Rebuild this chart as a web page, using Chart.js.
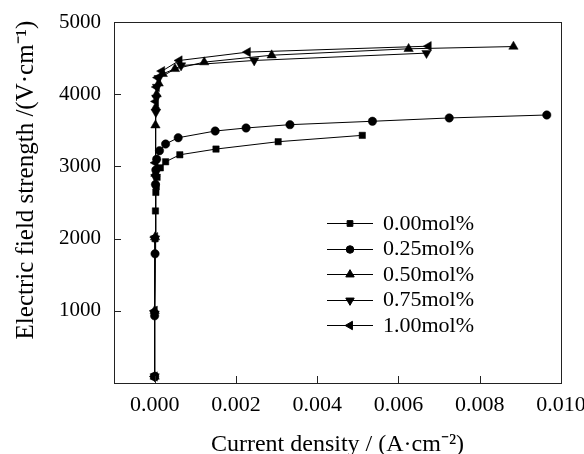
<!DOCTYPE html>
<html>
<head>
<meta charset="utf-8">
<script src="https://cdn.jsdelivr.net/npm/chart.js@4/dist/chart.umd.min.js"></script>
<style>
html,body{margin:0;padding:0;background:#fff;}
#wrap{width:584px;height:454px;position:relative;}
</style>
</head>
<body>
<div id="wrap"><canvas id="c" width="584" height="454"></canvas></div>
<script>
// ---- data ----
const seriesLabels = ["0.00mol%", "0.25mol%", "0.50mol%", "0.75mol%", "1.00mol%"];
const x000 = [0, 0, 0.00001, 0.00002, 0.00003, 0.00004, 0.00006, 0.00014, 0.00027, 0.00062, 0.00151, 0.00304, 0.00511];
const y000 = [90, 960, 2000, 2383, 2640, 2720, 2850, 2980, 3064, 3161, 3240, 3342, 3430];
const x025 = [0, 0, 0.00001, 0.00002, 0.00003, 0.00005, 0.00012, 0.00027, 0.00058, 0.00149, 0.00225, 0.00333, 0.00536, 0.00725, 0.00965];
const y025 = [90, 930, 1790, 2750, 2950, 3100, 3217, 3310, 3397, 3490, 3532, 3578, 3625, 3671, 3712];
const x050 = [0, 0, 0.00001, 0.00002, 0.00002, 0.00003, 0.00005, 0.0001, 0.0002, 0.0005, 0.00122, 0.00288, 0.00625, 0.00883];
const y050 = [90, 1000, 2020, 2900, 3570, 3820, 4000, 4150, 4282, 4351, 4444, 4540, 4629, 4660];
const x075 = [0, 0, 0.00001, 0.00002, 0.00003, 0.00004, 0.00006, 0.0001, 0.00065, 0.00245, 0.00669];
const y075 = [90, 960, 2000, 2850, 3750, 3950, 4100, 4220, 4397, 4467, 4569];
const x100 = [0, 0, 0.00001, 0.00002, 0.00003, 0.00005, 0.00008, 0.00018, 0.00061, 0.00229, 0.00674];
const y100 = [90, 1000, 2020, 3050, 3900, 4100, 4230, 4320, 4467, 4583, 4665];
const xTicks = [0, 0.002, 0.004, 0.006, 0.008, 0.010];
const yTicks = [1000, 2000, 3000, 4000, 5000];
const xTitle = "Current density / (A\u00b7cm\u207b\u00b2)";
const yTitle = "Electric field strength /(V\u00b7cm\u207b\u00b9)";

const zip = (xs, ys) => xs.map((x, i) => ({x: x, y: ys[i]}));
const seriesX = [x000, x025, x050, x075, x100];
const seriesY = [y000, y025, y050, y075, y100];
const styles = [
  {pointStyle: 'rect', rotation: 0, radius: 4.5},
  {pointStyle: 'circle', rotation: 0, radius: 4.2},
  {pointStyle: 'triangle', rotation: 0, radius: 5.4},
  {pointStyle: 'triangle', rotation: 180, radius: 5.4},
  {pointStyle: 'triangle', rotation: 270, radius: 5.4}
];
const SERIF = "'Liberation Serif', 'Times New Roman', serif";

const datasets = seriesLabels.map((lab, i) => ({
  label: lab,
  data: zip(seriesX[i], seriesY[i]),
  showLine: true,
  borderColor: '#000',
  borderWidth: 1,
  backgroundColor: '#000',
  pointBackgroundColor: '#000',
  pointBorderColor: '#000',
  pointBorderWidth: 0.5,
  pointStyle: styles[i].pointStyle,
  pointRotation: styles[i].rotation,
  pointRadius: styles[i].radius,
  tension: 0
}));

const framePlugin = {
  id: 'frame',
  afterDraw(chart) {
    const ctx = chart.ctx;
    const a = chart.chartArea;
    const xs = chart.scales.x, ys = chart.scales.y;
    ctx.save();
    ctx.strokeStyle = '#222';
    ctx.lineWidth = 1;
    ctx.strokeRect(Math.round(a.left) + 0.5, Math.round(a.top) + 0.5, Math.round(a.right - a.left), Math.round(a.bottom - a.top));
    // inward tick marks
    ctx.beginPath();
    xTicks.forEach(v => {
      const px = Math.round(xs.getPixelForValue(v)) + 0.5;
      ctx.moveTo(px, a.bottom); ctx.lineTo(px, a.bottom - 7);
    });
    yTicks.forEach(v => {
      const py = Math.round(ys.getPixelForValue(v)) + 0.5;
      ctx.moveTo(a.left, py); ctx.lineTo(a.left + 7, py);
    });
    ctx.stroke();
    // y axis title
    ctx.fillStyle = '#000';
    ctx.font = "25px " + SERIF;
    ctx.textAlign = 'center';
    ctx.textBaseline = 'middle';
    ctx.translate(26, 180);
    ctx.rotate(-Math.PI / 2);
    ctx.fillText(yTitle, 0, 0);
    ctx.restore();

    // legend inside plot area
    ctx.save();
    const x0 = 327, x1 = 373, tx = 383, top = 223, step = 25.5;
    chart.data.datasets.forEach((ds, i) => {
      const y = top + i * step;
      ctx.strokeStyle = '#000';
      ctx.lineWidth = 1;
      ctx.beginPath();
      ctx.moveTo(x0, Math.round(y) + 0.5); ctx.lineTo(x1, Math.round(y) + 0.5);
      ctx.stroke();
      ctx.fillStyle = '#000';
      const opts = {pointStyle: ds.pointStyle, rotation: ds.pointRotation, radius: ds.pointRadius * 0.9, borderWidth: 0.5};
      if (Chart.helpers && Chart.helpers.drawPoint) {
        Chart.helpers.drawPoint(ctx, opts, (x0 + x1) / 2, Math.round(y) + 0.5);
      }
      ctx.font = "22px " + SERIF;
      ctx.textAlign = 'left';
      ctx.textBaseline = 'middle';
      ctx.fillText(ds.label, tx, y + 1);
    });
    ctx.restore();
  }
};

new Chart(document.getElementById('c'), {
  type: 'scatter',
  data: {datasets: datasets},
  options: {
    responsive: false,
    animation: false,
    devicePixelRatio: 1,
    layout: {padding: {top: 22, right: 23, left: 0, bottom: 0}},
    plugins: {legend: {display: false}, tooltip: {enabled: false}},
    scales: {
      x: {
        type: 'linear',
        min: -0.001,
        max: 0.010,
        afterBuildTicks: s => { s.ticks = xTicks.map(v => ({value: v})); },
        afterFit: s => { s.height = 71; s.paddingLeft = 0; s.paddingRight = 0; },
        grid: {display: false, drawTicks: false},
        border: {display: false},
        ticks: {
          padding: 9,
          color: '#000',
          maxRotation: 0,
          font: {family: SERIF, size: 22},
          callback: v => Number(v).toFixed(3)
        },
        title: {display: true, text: xTitle, color: '#000', font: {family: SERIF, size: 24, lineHeight: 0.8}, padding: {top: 0, bottom: 0}}
      },
      y: {
        type: 'linear',
        min: 0,
        max: 5000,
        afterBuildTicks: s => { s.ticks = yTicks.map(v => ({value: v})); },
        afterFit: s => { s.width = 114; s.paddingTop = 0; s.paddingBottom = 0; },
        grid: {display: false, drawTicks: false},
        border: {display: false},
        ticks: {
          padding: 13,
          color: '#000',
          font: {family: SERIF, size: 21},
          callback: v => String(v)
        }
      }
    }
  },
  plugins: [framePlugin]
});
</script>
</body>
</html>
